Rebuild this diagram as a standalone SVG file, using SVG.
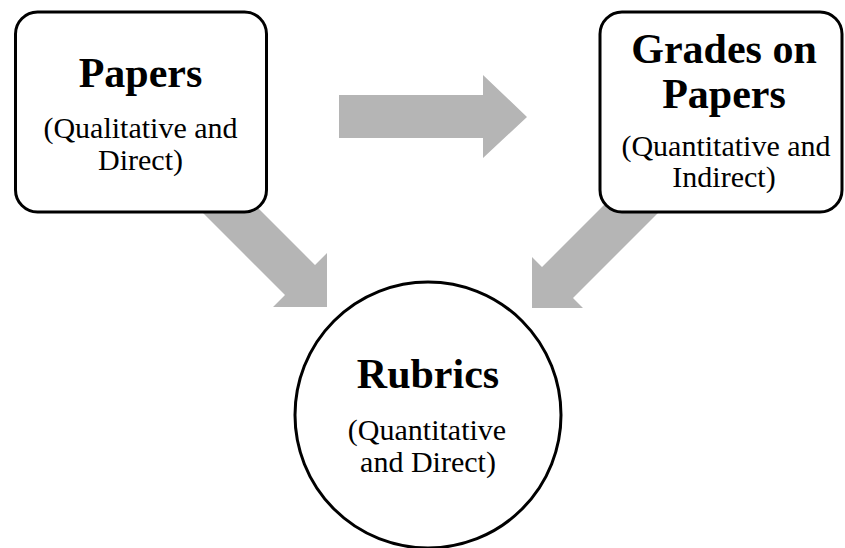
<svg xmlns="http://www.w3.org/2000/svg" width="845" height="548" viewBox="0 0 845 548">
<style>
.arrow{fill:#b5b5b5;stroke:none}
.box{fill:#ffffff;stroke:#000000;stroke-width:3}
.title{font-family:"Liberation Serif","Times New Roman",serif;font-weight:bold;font-size:42px;fill:#000;text-anchor:middle}
.sub{font-family:"Liberation Serif","Times New Roman",serif;font-size:30px;fill:#000;text-anchor:middle}
</style>
<rect width="845" height="548" fill="#ffffff"/>
<g id="connectors">
<polygon class="arrow" points="339,95 483,95 483,75 527,117 483,158 483,138 339,138"/>
<polygon class="arrow" points="195,205 285,295 273,307 327,307 327,253 315,265 225,175"/>
<polygon class="arrow" points="632,177 542,267 532,257 532,308 583,308 573,298 663,208"/>
</g>
<g id="papers">
<rect class="box" x="15.5" y="12" width="251" height="200" rx="22" ry="22"/>
<text class="title" x="140.5" y="87">Papers</text>
<text class="sub" x="140.5" y="138">(Qualitative and</text>
<text class="sub" x="140.5" y="170">Direct)</text>
</g>
<g id="grades">
<rect class="box" x="600" y="12" width="242" height="200" rx="22" ry="22"/>
<text class="title" x="724" y="63">Grades on</text>
<text class="title" x="724" y="108">Papers</text>
<text class="sub" x="726" y="156">(Quantitative and</text>
<text class="sub" x="724" y="187">Indirect)</text>
</g>
<g id="rubrics">
<circle class="box" cx="428" cy="415" r="133"/>
<text class="title" x="428" y="388">Rubrics</text>
<text class="sub" x="427" y="440">(Quantitative</text>
<text class="sub" x="428" y="472">and Direct)</text>
</g>
</svg>
